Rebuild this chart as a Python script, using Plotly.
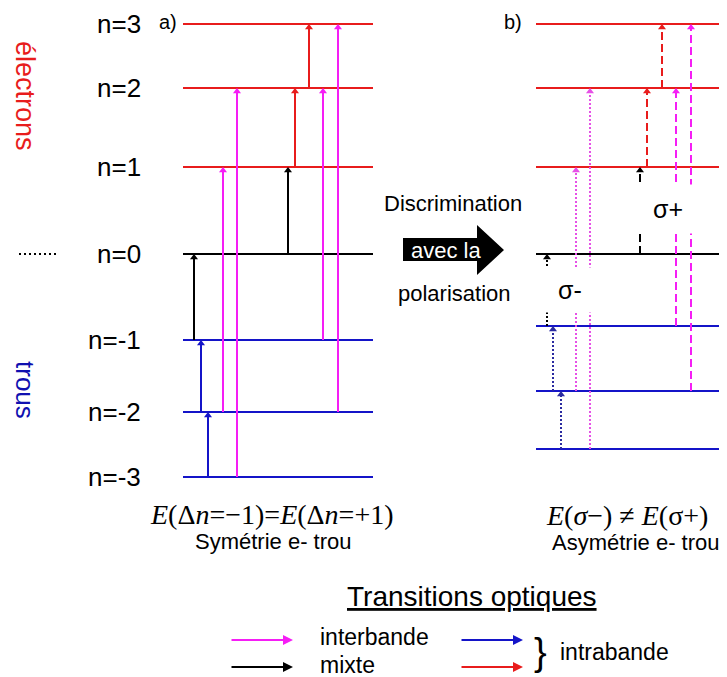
import plotly.graph_objects as go

# Niveaux de Landau (électrons n>0, trous n<0)
niveaux = [3, 2, 1, 0, -1, -2, -3]
etiquettes = ["n=3", "n=2", "n=1", "n=0", "n=-1", "n=-2", "n=-3"]
energie_a = [24, 88, 167, 254, 340, 412, 477]   # a) symétrie e- trou
energie_b = [24, 88, 167, 254, 326, 391, 449]   # b) asymétrie e- trou

# Transitions a) : position, niveau de départ, niveau d'arrivée, type
trans_a_x = [194, 201, 208, 223, 237, 288, 295, 309, 323, 338]
trans_a_de = [-1, -2, -3, -2, -3, 0, 1, 2, -1, -2]
trans_a_vers = [0, -1, -2, 1, 2, 1, 2, 3, 2, 3]
trans_a_type = ["mixte", "intra", "intra", "inter", "inter",
                "mixte", "intra", "intra", "inter", "inter"]

# Transitions b) : même chose, avec la polarisation
trans_b_x = [547, 553, 561, 576, 590, 640, 647, 662, 676, 691]
trans_b_de = [-1, -2, -3, -2, -3, 0, 1, 2, -1, -2]
trans_b_vers = [0, -1, -2, 1, 2, 1, 2, 3, 2, 3]
trans_b_type = ["mixte", "intra", "intra", "inter", "inter",
                "mixte", "intra", "intra", "inter", "inter"]
trans_b_pol = ["σ-", "σ-", "σ-", "σ-", "σ-", "σ+", "σ+", "σ+", "σ+", "σ+"]

ROUGE = "#e81c1c"
BLEU = "#1414c8"
MAGENTA = "#f51ef5"
NOIR = "black"
SANS = "Liberation Sans, Arial, sans-serif"
SERIF = "Liberation Serif, Times New Roman, serif"

# la page html a une marge de 8 px : on la retire de la taille de la figure
MARGE_PAGE = 8


def couleur_niveau(n):
    if n > 0:
        return ROUGE
    if n < 0:
        return BLEU
    return NOIR


def couleur_transition(t, n):
    if t == "inter":
        return MAGENTA
    if t == "mixte":
        return NOIR
    return ROUGE if n > 0 else BLEU


fig = go.Figure()

# Niveaux
for energie, (x0, x1) in [(energie_a, (183, 373)), (energie_b, (536, 727))]:
    for n, y in zip(niveaux, energie):
        fig.add_trace(go.Scatter(x=[x0, x1], y=[y, y], mode="lines",
                                 line=dict(color=couleur_niveau(n), width=2.2),
                                 hoverinfo="skip"))


def tracer_transitions(xs, de, vers, types, energie, dash, pols=None):
    pos = dict(zip(niveaux, energie))
    tx, ty, tc = [], [], []
    for i, x in enumerate(xs):
        c = couleur_transition(types[i], vers[i])
        if pols is not None and pols[i] == "σ-" and types[i] == "inter":
            c = "#e650e6"
        if pols is not None and pols[i] == "σ-" and types[i] == "intra":
            c = "#2a2aa0"
        d = dash if pols is None else ("2px,2px" if pols[i] == "σ-" else "8px,4px")
        fig.add_trace(go.Scatter(x=[x, x], y=[pos[de[i]], pos[vers[i]] + 3],
                                 mode="lines", line=dict(color=c, width=2, dash=d),
                                 hoverinfo="skip"))
        tx.append(x)
        ty.append(pos[vers[i]] + 3.5)
        tc.append(c)
    fig.add_trace(go.Scatter(x=tx, y=ty, mode="markers",
                             marker=dict(symbol="triangle-up", size=7, color=tc),
                             hoverinfo="skip"))


tracer_transitions(trans_a_x, trans_a_de, trans_a_vers, trans_a_type, energie_a, "solid")
tracer_transitions(trans_b_x, trans_b_de, trans_b_vers, trans_b_type, energie_b, "dot", trans_b_pol)

# pointillés à gauche de n=0
fig.add_trace(go.Scatter(x=[19, 57], y=[energie_a[3], energie_a[3]], mode="lines",
                         line=dict(color=NOIR, width=2, dash="2px,3px"), hoverinfo="skip"))

ann = []
for lab, y in zip(etiquettes, energie_a):
    ann.append(dict(x=143, y=y, text=lab, xanchor="right", yanchor="middle",
                    font=dict(family=SANS, size=26, color="black")))

ann += [
    dict(x=168, y=22, text="a)", font=dict(family=SANS, size=20)),
    dict(x=513, y=22, text="b)", font=dict(family=SANS, size=20)),
    dict(x=25, y=96, text="électrons", textangle=90, font=dict(family=SANS, size=27, color=ROUGE)),
    dict(x=25, y=390, text="trous", textangle=90, font=dict(family=SANS, size=26, color="#1010b0")),
    dict(x=453, y=203, text="Discrimination", font=dict(family=SANS, size=22)),
    dict(x=446, y=250, text="avec la", font=dict(family=SANS, size=22, color="white")),
    dict(x=454, y=293, text="polarisation", font=dict(family=SANS, size=22)),
    # étiquettes de polarisation, fond blanc qui coupe les transitions
    dict(x=668, y=209, text="σ+", bgcolor="white", width=64, height=48, borderpad=0,
         font=dict(family=SANS, size=25)),
    dict(x=570, y=290, text="σ-", bgcolor="white", width=60, height=44, borderpad=0,
         font=dict(family=SANS, size=25)),
    dict(x=272, y=514, text="<i>E</i>(Δ<i>n</i>=−1)=<i>E</i>(Δ<i>n</i>=+1)",
         font=dict(family=SERIF, size=28)),
    dict(x=273, y=541, text="Symétrie e- trou", font=dict(family=SANS, size=22)),
    dict(x=627, y=515, text="<i>E</i>(<i>σ</i>−) ≠ <i>E</i>(σ+)", font=dict(family=SERIF, size=28)),
    dict(x=636, y=542, text="Asymétrie e- trou", font=dict(family=SANS, size=22)),
    dict(x=472, y=596, text="<u>Transitions optiques</u>", font=dict(family=SANS, size=28)),
    dict(x=318, y=637, text="interbande", xanchor="left", font=dict(family=SANS, size=23)),
    dict(x=318, y=665, text="mixte", xanchor="left", font=dict(family=SANS, size=23)),
    dict(x=540, y=652, text="}", font=dict(family=SANS, size=38)),
    dict(x=558, y=652, text="intrabande", xanchor="left", font=dict(family=SANS, size=23)),
]
for a in ann:
    a.setdefault("showarrow", False)
    a.setdefault("xref", "x")
    a.setdefault("yref", "y")

# flèches de la légende
for (x0, x1, y, c) in [(230, 293, 640, MAGENTA), (230, 293, 667, NOIR),
                       (460, 523, 640, BLEU), (460, 523, 667, ROUGE)]:
    ann.append(dict(x=x1, y=y, ax=x0, ay=y, xref="x", yref="y", axref="x", ayref="y",
                    text="", showarrow=True, arrowhead=2, arrowsize=1, arrowwidth=2,
                    arrowcolor=c))

fig.update_layout(
    width=727 - MARGE_PAGE, height=677 - MARGE_PAGE,
    margin=dict(l=0, r=0, t=0, b=0),
    paper_bgcolor="white", plot_bgcolor="white",
    font=dict(family=SANS, color="black"),
    showlegend=False,
    xaxis=dict(range=[MARGE_PAGE, 727], visible=False, fixedrange=True),
    yaxis=dict(range=[677, MARGE_PAGE], visible=False, fixedrange=True),
    annotations=ann,
    shapes=[dict(type="path", xref="x", yref="y",
                 path="M 403,238 L 477,238 L 477,225 L 504,250 L 477,275 L 477,261 L 403,261 Z",
                 fillcolor="black", line=dict(width=0))],
)

fig.write_html("out.html")
